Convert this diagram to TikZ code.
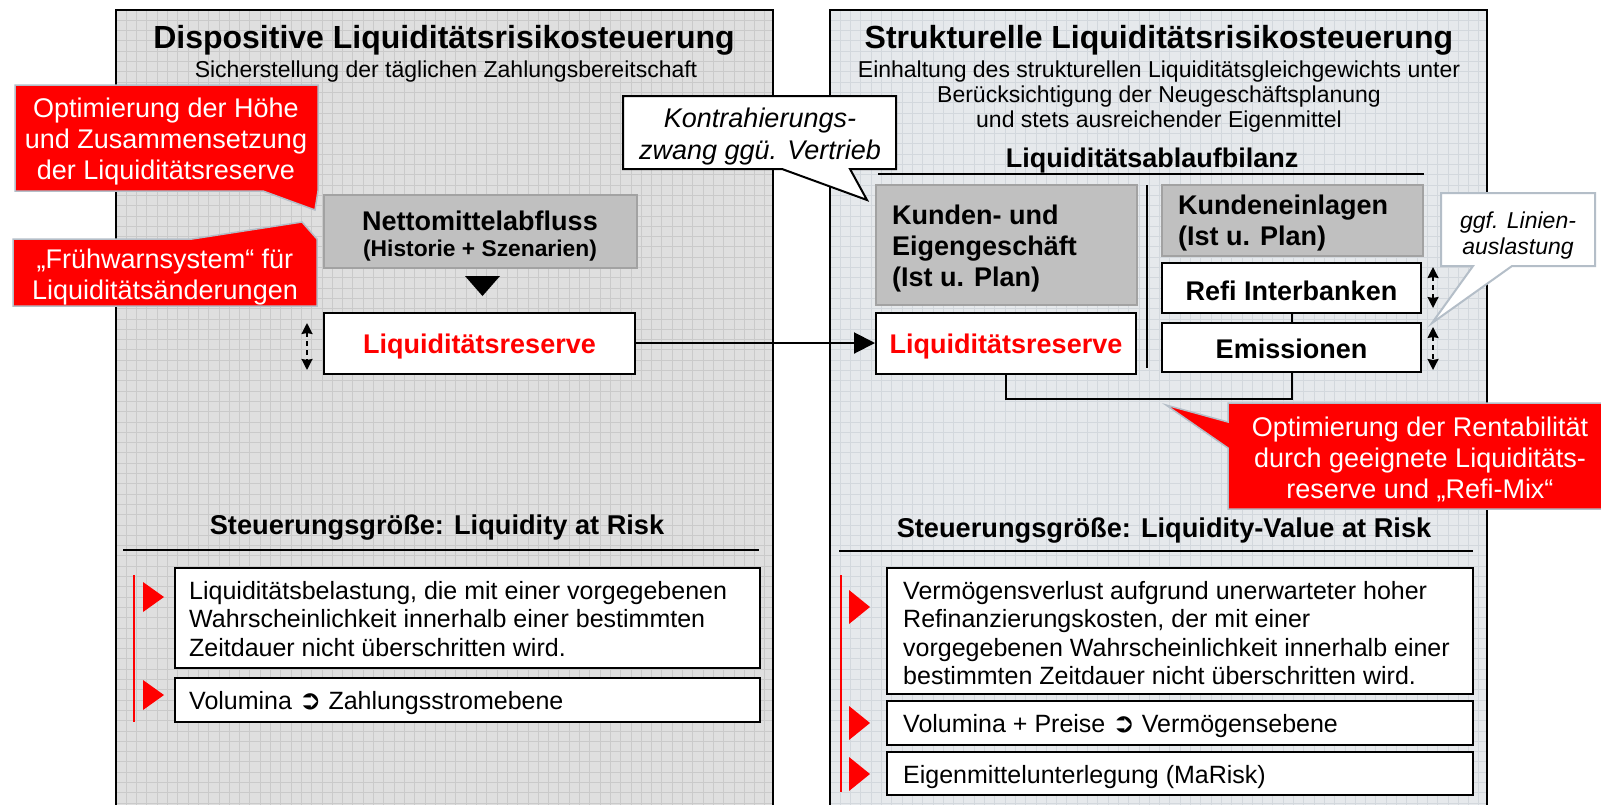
\documentclass[tikz,border=0pt]{standalone}
\usepackage{fontspec}
\setmainfont{Liberation Sans}
\newfontfamily\dejavu{DejaVu Sans}
\usetikzlibrary{arrows.meta}
\newcommand{\myfs}[2]{\fontsize{#1}{#2}\selectfont}
\newcommand{\darr}{{\dejavu\bfseries\myfs{27}{28}➲}}
\definecolor{panelLc}{HTML}{DFDFDF}
\definecolor{gridLc}{HTML}{CACACA}
\definecolor{panelRc}{HTML}{E6E9EC}
\definecolor{gridRc}{HTML}{D3D8DD}
\definecolor{grayfill}{HTML}{C0C0C0}
\definecolor{grayborder}{HTML}{A2A2A2}
\definecolor{callborder}{HTML}{B4BEC8}
\tikzset{
  gridL/.style={draw=gridLc, line width=1pt},
  gridR/.style={draw=gridRc, line width=1pt},
  panelborder/.style={draw=black, line width=2pt},
  graybox/.style={draw=grayborder, fill=grayfill, line width=2pt, inner sep=0pt},
  whitebox/.style={draw=black, fill=white, line width=2pt, inner sep=0pt},
  redcall/.style={fill=red, draw=callborder, line width=1.5pt, line join=miter},
  whitecall/.style={fill=white, draw=black, line width=2pt},
  ggfcall/.style={fill=white, draw=callborder, line width=2pt},
  dblarrow/.style={line width=2pt, dash pattern=on 5pt off 4pt, {Stealth[length=11pt,width=11pt,inset=1pt]}-{Stealth[length=11pt,width=11pt,inset=1pt]}},
  conn/.style={line width=2pt, -{Triangle[length=21pt,width=21pt]}},
  blk/.style={draw=black, line width=2pt},
  redbar/.style={draw=red, line width=2pt},
  txt/.style={inner sep=0pt},
  boxfont/.style={font=\bfseries\myfs{27}{31}},
  callfont/.style={font=\myfs{27}{31}, text=white, align=center, inner sep=0pt},
  bulletfont/.style={font=\myfs{25}{28.5}, align=left, anchor=west, inner sep=0pt},
}
\begin{document}
\begin{tikzpicture}[x=1pt,y=-1pt]
\useasboundingbox (0,0) rectangle (1601,804);
\fill[white] (0,0) rectangle (1601,804);

% ---------- panels
\fill[panelLc] (116,10) rectangle (773,810);
\foreach \i in {1,...,63} { \draw[gridL] ({116+10.3*\i},10) -- ({116+10.3*\i},810); }
\foreach \j in {1,...,77} { \draw[gridL] (116,{10+10.3*\j}) -- (773,{10+10.3*\j}); }
\draw[panelborder] (116,810) -- (116,10) -- (773,10) -- (773,810);

\fill[panelRc] (830,10) rectangle (1487,810);
\foreach \i in {1,...,63} { \draw[gridR] ({830+10.3*\i},10) -- ({830+10.3*\i},810); }
\foreach \j in {1,...,77} { \draw[gridR] (830,{10+10.3*\j}) -- (1487,{10+10.3*\j}); }
\draw[panelborder] (830,810) -- (830,10) -- (1487,10) -- (1487,810);

% ---------- titles
\node[txt, font=\bfseries\myfs{32}{36}] (tL) at (444,40) {Dispositive Liquiditätsrisikosteuerung};
\node[txt, font=\myfs{23}{25}] (sL) at (446,72) {Sicherstellung der täglichen Zahlungsbereitschaft};
\node[txt, font=\bfseries\myfs{32}{36}] (tR) at (1159,40) {Strukturelle Liquiditätsrisikosteuerung};
\node[txt, font=\myfs{23}{25}, align=center] (sR) at (1159,97) {Einhaltung des strukturellen Liquiditätsgleichgewichts unter\\Berücksichtigung der Neugeschäftsplanung\\und stets ausreichender Eigenmittel};

% ---------- left red callouts
\path[redcall] (15,85) -- (318,85) -- (318,191) -- (315,210) -- (263,191) -- (15,191) -- cycle;
\node[callfont] (c1) at (166,142) {Optimierung der Höhe\\und Zusammensetzung\\der Liquiditätsreserve};
\path[redcall] (13,239) -- (192,239) -- (302,222) -- (317,239) -- (317,306) -- (13,306) -- cycle;
\node[callfont] (c2) at (165,277) {„Frühwarnsystem“ für\\Liquiditätsänderungen};

% ---------- left boxes
\node[graybox, minimum width=313pt, minimum height=73pt] (netto) at (480.5,231.5) {};
\node[txt, font=\bfseries\myfs{27}{30}] (netto1) at (480,221) {Nettomittelabfluss};
\node[txt, font=\bfseries\myfs{22.8}{26}] (netto2) at (480,251) {(Historie + Szenarien)};
\fill (465,276) -- (500,276) -- (482.5,296) -- cycle;
\node[whitebox, minimum width=311pt, minimum height=61pt] (lrL) at (479.5,343) {};
\node[txt, boxfont, text=red] (lrLT) at (479.5,347) {Liquiditätsreserve};
\coordinate (dl1) at (307,323); \coordinate (dl2) at (307,370);
\draw[dblarrow] (dl1) -- (dl2);

% ---------- Kontrahierung callout
\path[whitecall] (623,96) -- (896,96) -- (896,169) -- (850,169) -- (867,200) -- (782,169) -- (623,169) -- cycle;
\node[txt, font=\itshape\myfs{27}{32}, align=center] (kontra) at (760,137) {Kontrahierungs-\\zwang ggü. Vertrieb};

% ---------- right structure
\node[txt, font=\bfseries\myfs{27}{30}] (lab) at (1152,161) {Liquiditätsablaufbilanz};
\draw[blk] (878,174) -- (1424,174);

\node[graybox, minimum width=261pt, minimum height=120pt] (kunden) at (1006.5,245) {};
\node[txt, boxfont, align=left, anchor=west] (kundenT) at (892,249) {Kunden- und\\Eigengeschäft\\(Ist u. Plan)};
\node[whitebox, minimum width=260pt, minimum height=61pt] (lrR) at (1006,343) {};
\node[txt, boxfont, text=red] (lrRT) at (1006,347) {Liquiditätsreserve};
\draw[blk] (1147,185) -- (1147,368);

\node[graybox, minimum width=261pt, minimum height=71pt] (einl) at (1292.5,220.5) {};
\node[txt, font=\bfseries\myfs{27}{31}, align=left, anchor=west] (einlT) at (1178,223) {Kundeneinlagen\\(Ist u. Plan)};
\node[whitebox, minimum width=259pt, minimum height=50pt] (refi) at (1291.5,288) {};
\node[txt, boxfont] (refiT) at (1291.5,291) {Refi Interbanken};
\node[whitebox, minimum width=259pt, minimum height=49pt] (emis) at (1291.5,347.5) {};
\node[txt, boxfont] (emisT) at (1291.5,349) {Emissionen};
\draw[blk] (refi.south) -- (emis.north);
\draw[blk] (lrR.south) -- ++(0,24) -| (emis.south);
\coordinate (dr1) at (1433,267); \coordinate (dr2) at (1433,308);
\coordinate (dr3) at (1433,327); \coordinate (dr4) at (1433,370);
\draw[dblarrow] (dr1) -- (dr2);
\draw[dblarrow] (dr3) -- (dr4);

\draw[conn] (lrL.east) -- (lrR.west);

% ggf callout
\path[ggfcall] (1441,193) -- (1595,193) -- (1595,266) -- (1512,266) -- (1432,323) -- (1473,266) -- (1441,266) -- cycle;
\node[txt, font=\itshape\myfs{23}{26}, align=center] (ggf) at (1518,236) {ggf. Linien-\\auslastung};

% red callout right
\path[redcall] (1228,403) -- (1612,403) -- (1612,509) -- (1228,509) -- (1228,448) -- (1166,405) -- (1228,422) -- cycle;
\node[callfont] (c3) at (1420,459) {Optimierung der Rentabilität\\durch geeignete Liquiditäts-\\reserve und „Refi-Mix“};

% ---------- Steuerungsgrößen
\node[txt, font=\bfseries\myfs{27.2}{31}] (stL) at (437,528) {Steuerungsgröße: Liquidity at Risk};
\draw[blk] (123,550) -- (759,550);
\node[txt, font=\bfseries\myfs{27.2}{31}] (stR) at (1164,531) {Steuerungsgröße: Liquidity-Value at Risk};
\draw[blk] (839,551) -- (1473,551);

% left bullets
\node[whitebox, minimum width=585pt, minimum height=100pt] (bL1) at (467.5,618) {};
\node[bulletfont] (bL1T) at (189,619) {Liquiditätsbelastung, die mit einer vorgegebenen\\Wahrscheinlichkeit innerhalb einer bestimmten\\Zeitdauer nicht überschritten wird.};
\node[whitebox, minimum width=585pt, minimum height=44pt] (bL2) at (467.5,700) {};
\node[bulletfont] (bL2T) at (189,703) {Volumina \darr{} Zahlungsstromebene};
\draw[redbar] (134,575) -- (134,722);
\fill[red] (143,582) -- (164,597) -- (143,612) -- cycle;
\fill[red] (143,680) -- (164,695) -- (143,710) -- cycle;

% right bullets
\node[whitebox, minimum width=586pt, minimum height=126pt] (bR1) at (1180,631) {};
\node[bulletfont] (bR1T) at (903,633) {Vermögensverlust aufgrund unerwarteter hoher\\Refinanzierungskosten, der mit einer\\vorgegebenen Wahrscheinlichkeit innerhalb einer\\bestimmten Zeitdauer nicht überschritten wird.};
\node[whitebox, minimum width=586pt, minimum height=44pt] (bR2) at (1180,723) {};
\node[bulletfont] (bR2T) at (903,726) {Volumina + Preise \darr{} Vermögensebene};
\node[whitebox, minimum width=586pt, minimum height=43pt] (bR3) at (1180,773.5) {};
\node[bulletfont] (bR3T) at (903,777) {Eigenmittelunterlegung (MaRisk)};
\draw[redbar] (841,575) -- (841,792);
\fill[red] (849,590) -- (870,607) -- (849,624) -- cycle;
\fill[red] (849,706) -- (870,723) -- (849,740) -- cycle;
\fill[red] (849,757) -- (870,774) -- (849,791) -- cycle;
\end{tikzpicture}
\end{document}
